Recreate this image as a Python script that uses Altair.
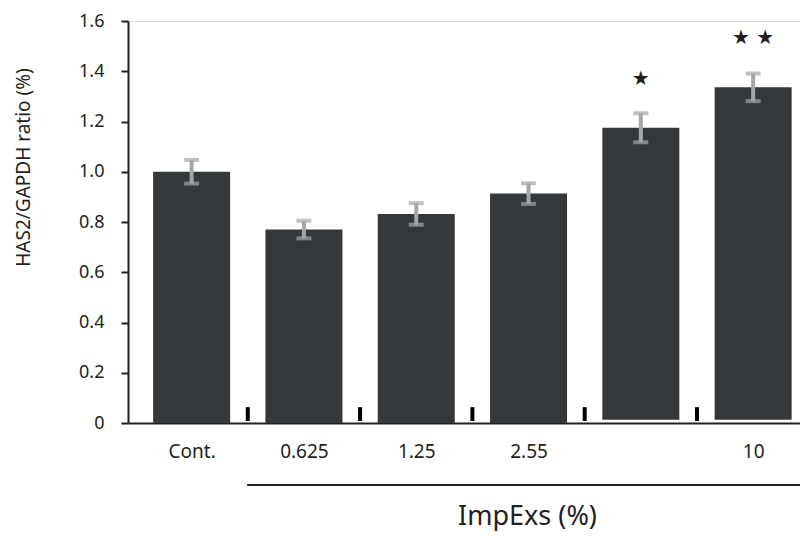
import json
import altair as alt
import pandas as pd

# ---- data ----
categories = ["Cont.", "0.625", "1.25", "2.55", "", "10"]
values = [1.0, 0.77, 0.832, 0.913, 1.175, 1.336]
errors = [0.047, 0.035, 0.043, 0.041, 0.058, 0.055]
bar_base = [0, 0, 0, 0, 0.013, 0.013]
stars = ["", "", "", "", "★", "★ ★"]
star_y = [None, None, None, None, 1.371, 1.533]
separators = [0.5, 1.5, 2.5, 3.5, 4.5]
sep_top = [0.063, 0.063, 0.063, 0.063, 0.063]
sep_bottom = [0.008, 0.008, 0.008, 0.008, 0.008]
y_ticks = [0, 0.2, 0.4, 0.6, 0.8, 1.0, 1.2, 1.4, 1.6]

idx = list(range(len(categories)))
df = pd.DataFrame({
    "idx": idx,
    "cat": categories,
    "value": values,
    "err": errors,
    "base": bar_base,
    "star": stars,
    "star_y": star_y,
})
df["lo"] = df["value"] - df["err"]
df["hi"] = df["value"] + df["err"]
sep_df = pd.DataFrame({"x": separators, "top": sep_top, "bottom": sep_bottom})

DARK = "#231f20"
BAR = "#35383b"
ERR = "#a4a7a9"
FONT = "Noto Sans"

W, H = 672, 402
xscale = alt.Scale(domain=[-0.522, -0.522 + W / 114], nice=False, zero=False)
yscale = alt.Scale(domain=[0, 1.6], nice=False, zero=True)

label_expr = json.dumps(categories) + "[datum.value]"

x_axis = alt.Axis(
    values=idx, labelExpr=label_expr, ticks=False, grid=False,
    domainColor=DARK, domainWidth=2, labelFontSize=19, labelPadding=19,
    labelColor=DARK, labelFont=FONT,
    title="ImpExs (%)", titleFontSize=27, titleFontWeight="normal", titleFont=FONT,
    titleColor=DARK, titleX=399, titleY=101, titleAlign="center",
    titleBaseline="alphabetic",
)
y_axis = alt.Axis(
    values=y_ticks, labelExpr="datum.value == 0 ? '0' : format(datum.value, '.1f')",
    tickSize=7, tickWidth=2, tickColor=DARK, domainColor=DARK, domainWidth=2,
    grid=False, labelFontSize=18, labelPadding=17, labelColor=DARK, labelFont=FONT,
    title="HAS2/GAPDH ratio (%)", titleFontSize=19, titleFontWeight="normal",
    titleFont=FONT, titleColor=DARK, titleX=-105, titleY=146, titleAngle=270,
    titleAlign="center", titleBaseline="middle",
)

base = alt.Chart(df)

bars = base.mark_bar(size=77, color=BAR, orient="vertical").encode(
    x=alt.X("idx:Q", scale=xscale, axis=x_axis),
    y=alt.Y("value:Q", scale=yscale, axis=y_axis),
    y2="base:Q",
)

err_rule = base.mark_rule(strokeWidth=4, color=ERR).encode(
    x=alt.X("idx:Q", scale=xscale), y=alt.Y("lo:Q", scale=yscale), y2="hi:Q"
)
cap_lo = base.mark_tick(orient="horizontal", size=15, thickness=4, color=ERR).encode(
    x=alt.X("idx:Q", scale=xscale), y=alt.Y("lo:Q", scale=yscale)
)
cap_hi = base.mark_tick(orient="horizontal", size=15, thickness=4, color=ERR).encode(
    x=alt.X("idx:Q", scale=xscale), y=alt.Y("hi:Q", scale=yscale)
)

seps = alt.Chart(sep_df).mark_bar(size=4, color="#000000", orient="vertical").encode(
    x=alt.X("x:Q", scale=xscale), y=alt.Y("top:Q", scale=yscale), y2="bottom:Q"
)

star_text = base.transform_filter("datum.star != ''").mark_text(
    font="DejaVu Sans", fontSize=20, baseline="middle", align="center", color=DARK
).encode(
    x=alt.X("idx:Q", scale=xscale), y=alt.Y("star_y:Q", scale=yscale), text="star:N"
)

underline = base.mark_rule(strokeWidth=2, color=DARK).encode(
    x=alt.datum(0.5), x2=alt.value(W), y=alt.value(464)
)

chart = alt.layer(bars, err_rule, cap_lo, cap_hi, seps, star_text, underline).properties(
    width=W, height=H,
    padding={"left": 120, "top": 13, "right": 0, "bottom": 108},
    autosize=alt.AutoSizeParams(type="none"),
).configure_view(stroke=None).configure(background="white")

chart.save("out.html", embed_options={"renderer": "svg", "actions": False})
